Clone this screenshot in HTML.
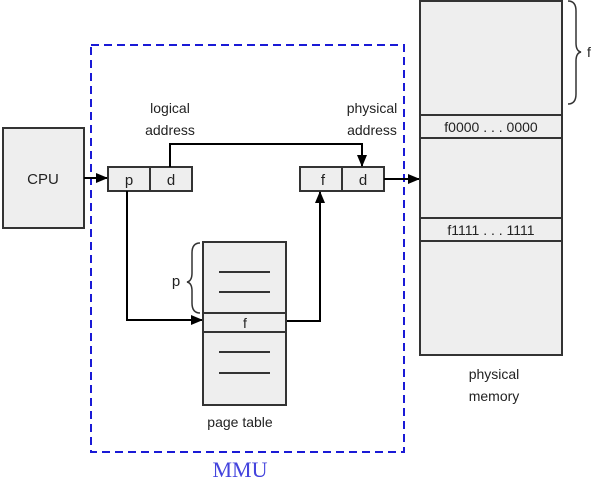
<!DOCTYPE html>
<html><head><style>
body{margin:0;background:#fff;}
svg text{font-family:"Liberation Sans",sans-serif;fill:#222;}
</style></head><body>
<svg width="602" height="495" viewBox="0 0 602 495" xmlns="http://www.w3.org/2000/svg">
<defs><marker id="a" markerWidth="12" markerHeight="10" refX="11" refY="5" orient="auto" markerUnits="userSpaceOnUse"><path d="M0,0 L12,5 L0,10 z" fill="#000"/></marker>
<marker id="b" markerWidth="12" markerHeight="10" refX="11" refY="5" orient="auto" markerUnits="userSpaceOnUse"><path d="M0,0 L12,5 L0,10 z" fill="#000"/></marker></defs>
<!-- CPU -->
<rect x="3" y="128" width="81" height="100" fill="#eee" stroke="#333" stroke-width="2"/>
<text x="43" y="184" font-size="15" text-anchor="middle">CPU</text>
<!-- MMU -->
<rect x="91" y="45" width="313" height="407" fill="none" stroke="#1a1ad6" stroke-width="2" stroke-dasharray="8,5"/>
<text x="240" y="477" font-size="22" text-anchor="middle" style="font-family:'Liberation Serif',serif;fill:#4444dd">MMU</text>
<!-- logical -->
<rect x="108" y="167" width="84" height="24" fill="#eee" stroke="#333" stroke-width="2"/>
<line x1="150" y1="167" x2="150" y2="191" stroke="#333" stroke-width="2"/>
<text x="129" y="185" font-size="15" text-anchor="middle">p</text>
<text x="171" y="185" font-size="15" text-anchor="middle">d</text>
<text x="170" y="113" font-size="14" text-anchor="middle">logical</text>
<text x="170" y="135" font-size="14" text-anchor="middle">address</text>
<!-- physical -->
<rect x="300" y="167" width="84" height="24" fill="#eee" stroke="#333" stroke-width="2"/>
<line x1="342" y1="167" x2="342" y2="191" stroke="#333" stroke-width="2"/>
<text x="323" y="185" font-size="15" text-anchor="middle">f</text>
<text x="363" y="185" font-size="15" text-anchor="middle">d</text>
<text x="372" y="113" font-size="14" text-anchor="middle">physical</text>
<text x="372" y="135" font-size="14" text-anchor="middle">address</text>
<!-- arrows -->
<line x1="84" y1="178" x2="107" y2="178" stroke="#000" stroke-width="2" marker-end="url(#a)"/>
<polyline points="170,167 170,144 362,144 362,166" fill="none" stroke="#000" stroke-width="2" marker-end="url(#b)"/>
<polyline points="127,191 127,320 202,320" fill="none" stroke="#000" stroke-width="2" marker-end="url(#b)"/>
<polyline points="286,321 320,321 320,192" fill="none" stroke="#000" stroke-width="2" marker-end="url(#b)"/>
<line x1="384" y1="179" x2="419" y2="179" stroke="#000" stroke-width="2" marker-end="url(#b)"/>
<!-- page table -->
<rect x="203" y="242" width="83" height="163" fill="#eee" stroke="#333" stroke-width="2"/>
<rect x="203" y="313" width="83" height="19" fill="#eee" stroke="#333" stroke-width="2"/>
<text x="245" y="328" font-size="14" text-anchor="middle">f</text>
<g stroke="#333" stroke-width="2"><line x1="219" y1="272" x2="270" y2="272"/><line x1="219" y1="292" x2="270" y2="292"/><line x1="219" y1="352" x2="270" y2="352"/><line x1="219" y1="373" x2="270" y2="373"/></g>
<path d="M200,243 q-8,0 -8,10 v20 q0,8 -5,9 q5,1 5,9 v12 q0,10 8,10" fill="none" stroke="#333" stroke-width="1.5"/>
<text x="176" y="286" font-size="15" text-anchor="middle">p</text>
<text x="240" y="427" font-size="14" text-anchor="middle">page table</text>
<!-- memory -->
<rect x="420" y="1" width="142" height="354" fill="#eee" stroke="#333" stroke-width="2"/>
<rect x="420" y="115" width="142" height="23" fill="#eee" stroke="#333" stroke-width="2"/>
<rect x="420" y="218" width="142" height="23" fill="#eee" stroke="#333" stroke-width="2"/>
<text x="491" y="132" font-size="14" text-anchor="middle">f0000 . . . 0000</text>
<text x="491" y="235" font-size="14" text-anchor="middle">f1111 . . . 1111</text>
<path d="M568,1 q8,0 8,10 v32 q0,8 5,9 q-5,1 -5,9 v33 q0,10 -8,10" fill="none" stroke="#333" stroke-width="1.5"/>
<text x="589" y="57" font-size="14" text-anchor="middle">f</text>
<text x="494" y="379" font-size="14" text-anchor="middle">physical</text>
<text x="494" y="401" font-size="14" text-anchor="middle">memory</text>
</svg>
</body></html>
